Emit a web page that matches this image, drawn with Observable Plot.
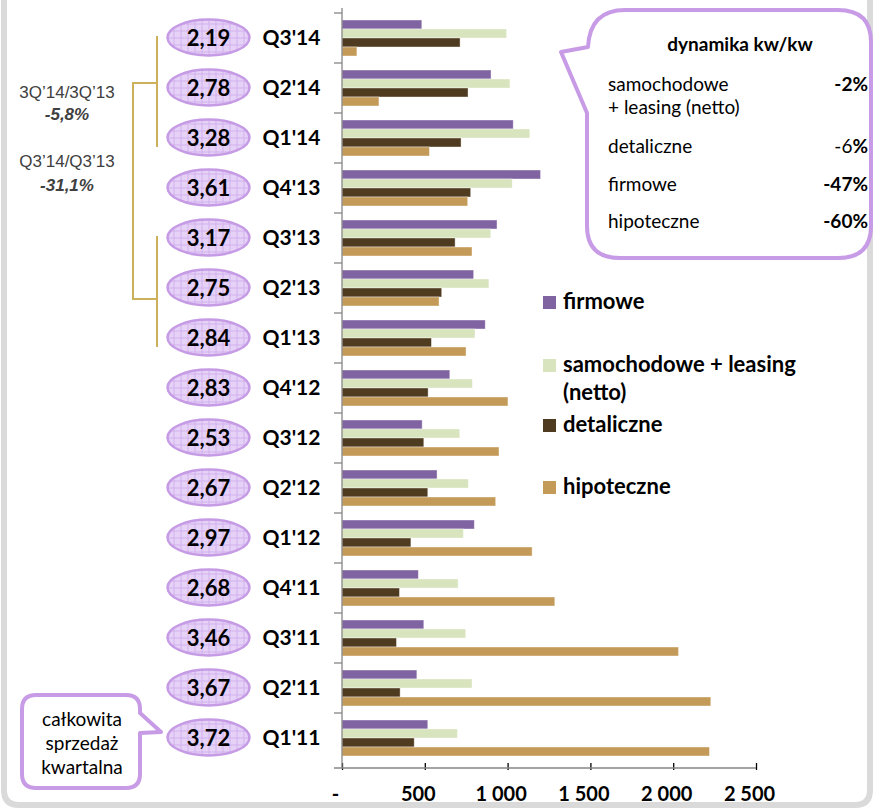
<!DOCTYPE html>
<html>
<head>
<meta charset="utf-8">
<script src="https://cdn.jsdelivr.net/npm/d3@7"></script>
<script src="https://cdn.jsdelivr.net/npm/@observablehq/plot@0.6"></script>
<style>
  html, body { margin: 0; padding: 0; background: #fff; }
  #chart { width: 874px; height: 808px; position: relative; overflow: hidden; }
  #chart svg { display: block; font-family: Lato, "Open Sans", sans-serif; }
</style>
</head>
<body>
<div id="chart"></div>
<script>
// ---- data ----
const quarters = ["Q3'14","Q2'14","Q1'14","Q4'13","Q3'13","Q2'13","Q1'13","Q4'12","Q3'12","Q2'12","Q1'12","Q4'11","Q3'11","Q2'11","Q1'11"];
const totals = ["2,19","2,78","3,28","3,61","3,17","2,75","2,84","2,83","2,53","2,67","2,97","2,68","3,46","3,67","3,72"];
const series = ["firmowe","samochodowe + leasing (netto)","detaliczne","hipoteczne"];
const firmowe     = [482, 900, 1034, 1199, 936, 795, 865, 651, 484, 574, 799, 461, 494, 452, 518];
const samochodowe = [994, 1014, 1134, 1028, 898, 887, 803, 787, 711, 763, 733, 701, 747, 785, 697];
const detaliczne  = [713, 761, 719, 777, 683, 602, 540, 520, 494, 518, 416, 347, 329, 351, 436];
const hipoteczne  = [90, 223, 528, 759, 785, 586, 749, 1002, 948, 928, 1148, 1285, 2032, 2227, 2219];
const colors = ["#8064a2", "#d7e4bd", "#4f3b1f", "#c49a58"];
const xTicks = [0, 500, 1000, 1500, 2000, 2500];
const legendLabels = [["firmowe"], ["samochodowe + leasing", "(netto)"], ["detaliczne"], ["hipoteczne"]];
const dynLabels = [["samochodowe", "+ leasing (netto)"], ["detaliczne"], ["firmowe"], ["hipoteczne"]];
const dynValues = ["-2", "-6", "-47", "-60"];
const yoyLabels = ["3Q\u201914/3Q\u201913", "-5,8%", "Q3\u201914/Q3\u201913", "-31,1%"];
const calloutLines = ["całkowita", "sprzedaż", "kwartalna"];

// ---- build tables ----
const seriesValues = [firmowe, samochodowe, detaliczne, hipoteczne];
const data = quarters.flatMap((q, i) => series.map((s, j) => ({quarter: q, series: s, value: seriesValues[j][i]})));
const totalsData = quarters.map((q, i) => ({quarter: q, total: totals[i]}));

const ellipse = {
  draw(ctx) {
    const a = 41, b = 18, kx = a * 0.5523, ky = b * 0.5523;
    ctx.moveTo(a, 0);
    ctx.bezierCurveTo(a, ky, kx, b, 0, b);
    ctx.bezierCurveTo(-kx, b, -a, ky, -a, 0);
    ctx.bezierCurveTo(-a, -ky, -kx, -b, 0, -b);
    ctx.bezierCurveTo(kx, -b, a, -ky, a, 0);
    ctx.closePath();
  }
};

const fmt = d => d === 0 ? "-" : d3.format(",")(d).replace(/,/g, " ");

const chart = Plot.plot({
  width: 874, height: 808,
  marginLeft: 342, marginRight: 118, marginTop: 8, marginBottom: 40,
  style: {fontFamily: "Lato, 'Open Sans', sans-serif", background: "transparent", overflow: "visible"},
  x: {domain: [0, 2500], ticks: xTicks, tickFormat: fmt, tickSize: 7, tickPadding: 16, label: null},
  y: {domain: series, axis: null, paddingInner: 0.05, paddingOuter: 0.8},
  fy: {domain: quarters, axis: null, padding: 0},
  color: {domain: series, range: colors},
  marks: [
    Plot.barX(data, {x: "value", y: "series", fy: "quarter", fill: "series", stroke: "#ffffff", strokeOpacity: 0.5, strokeWidth: 0.8}),
    Plot.dot(totalsData, {fy: "quarter", frameAnchor: "left", dx: -134, dy: -1, symbol: ellipse, fill: "url(#ovalgrid)", stroke: "#c69be5", strokeWidth: 2.5}),
    Plot.text(totalsData, {fy: "quarter", text: "total", frameAnchor: "left", dx: -134, dy: 0, textAnchor: "middle", fontWeight: "bold", fontSize: 22, fill: "#000"}),
    Plot.text(totalsData, {fy: "quarter", text: "quarter", frameAnchor: "left", dx: -80, textAnchor: "start", fontWeight: "bold", fontSize: 21, fill: "#000"})
  ]
});
document.getElementById("chart").appendChild(chart);

// ---- post-render decorations ----
const svg = d3.select(chart);
const defs = svg.insert("defs", ":first-child");
const pat = defs.append("pattern").attr("id", "ovalgrid").attr("patternUnits", "userSpaceOnUse")
  .attr("width", 7).attr("height", 7);
pat.append("rect").attr("width", 7).attr("height", 7).attr("fill", "#e6d2f6");
pat.append("path").attr("d", "M0,0.5H7M0.5,0V7").attr("stroke", "#d2b1ee").attr("stroke-width", 1);

// x tick styling
svg.selectAll("g").each(function() {
  const lab = this.getAttribute("aria-label") || "";
  if (lab === "x-axis tick") d3.select(this).attr("stroke", "#868686").attr("stroke-width", 1.3);
  if (lab === "x-axis tick label") {
    const tr = this.getAttribute("transform") || "";
    d3.select(this).attr("font-size", 20).attr("font-weight", "bold").attr("fill", "#000")
      .attr("transform", ("translate(-7,0) " + tr).trim());
  }
});

const xs = chart.scale("x");
const fys = chart.scale("fy");
const x0 = xs.apply(0), x1 = xs.apply(2500);
const fyTop = q => fys.apply(q);
const step = (fys.range[1] - fys.range[0]) / quarters.length;
const bw = fys.bandwidth ?? step;
const yTop = fys.range[0], yBot = fys.range[1];
const ax = svg.append("g").attr("stroke", "#868686").attr("stroke-width", 1.3).attr("fill", "none");
ax.append("line").attr("x1", x0).attr("x2", x0).attr("y1", yTop).attr("y2", yBot);
ax.append("line").attr("x1", x0 - 8).attr("x2", x1).attr("y1", yBot).attr("y2", yBot);
quarters.forEach(q => {
  const t = fyTop(q);
  ax.append("line").attr("x1", x0 - 8).attr("x2", x0).attr("y1", t).attr("y2", t);
});

// gold bracket
const cy = q => fyTop(q) + bw / 2;
const gold = "#cdb05a";
const br = svg.append("g").attr("stroke", gold).attr("stroke-width", 2).attr("fill", "none");
br.append("path").attr("d", `M157,${cy("Q3'14") - 2}V${cy("Q1'14") + 9}`);
br.append("path").attr("d", `M157,${cy("Q3'13") - 2}V${cy("Q1'13") + 9}`);
br.append("path").attr("d", `M157,${cy("Q2'14") - 5}H133V${cy("Q2'13") + 11}H157`);

// left yoy texts
const lt = svg.append("g").attr("font-family", "'Liberation Sans', Arial, sans-serif").attr("font-size", 17).attr("fill", "#404040").attr("text-anchor", "middle");
lt.append("text").attr("x", 67).attr("y", 98).text(yoyLabels[0]);
lt.append("text").attr("x", 67).attr("y", 120).attr("font-weight", "bold").attr("font-style", "italic").text(yoyLabels[1]);
lt.append("text").attr("x", 67).attr("y", 167).text(yoyLabels[2]);
lt.append("text").attr("x", 67).attr("y", 191).attr("font-weight", "bold").attr("font-style", "italic").text(yoyLabels[3]);

// legend
const lg = svg.append("g").attr("font-size", 22).attr("font-weight", "bold").attr("fill", "#000").attr("text-anchor", "start");
const legendY = [302, 365, 425, 487];
legendLabels.forEach((lines, i) => {
  lg.append("rect").attr("x", 543).attr("y", legendY[i] - 6).attr("width", 13).attr("height", 13).attr("fill", colors[i]);
  lines.forEach((ln, k) => {
    lg.append("text").attr("x", 563).attr("y", legendY[i] + 7 + k * 28).text(ln);
  });
});

// top-right callout
const purple = "#c89be6";
svg.append("path")
  .attr("d", "M587,113 L561,52 L588,47 Q590,10 625,10 L838,10 Q871,10 871,42 L871,226 Q871,258 838,258 L620,258 Q587,258 587,226 Z")
  .attr("fill", "#fff").attr("stroke", purple).attr("stroke-width", 4).attr("stroke-linejoin", "round");
const cg = svg.append("g").attr("font-size", 19).attr("fill", "#000").attr("text-anchor", "start");
cg.append("text").attr("x", 740).attr("y", 51).attr("text-anchor", "middle").attr("font-weight", "bold").text("dynamika kw/kw");
const dynY = [91, 153, 191, 228];
dynLabels.forEach((lines, i) => {
  lines.forEach((ln, k) => cg.append("text").attr("x", 608).attr("y", dynY[i] + k * 23).text(ln));
  const t = cg.append("text").attr("x", 868).attr("y", dynY[i]).attr("text-anchor", "end");
  t.append("tspan").attr("font-weight", i === 1 ? "normal" : "bold").text(dynValues[i]);
  t.append("tspan").attr("font-weight", "bold").text("%");
});

// bottom-left callout
svg.append("path")
  .attr("d", "M36,695 L126,695 Q140,695 140,709 L140,713 L161,732 L140,733 L140,774 Q140,788 126,788 L36,788 Q22,788 22,774 L22,709 Q22,695 36,695 Z")
  .attr("fill", "#fff").attr("stroke", purple).attr("stroke-width", 4).attr("stroke-linejoin", "round");
const bl = svg.append("g").attr("font-size", 19).attr("fill", "#000").attr("text-anchor", "middle");
calloutLines.forEach((ln, k) => bl.append("text").attr("x", 82).attr("y", 726 + k * 24).text(ln));

// outer frame
svg.insert("path", ":first-child")
  .attr("d", "M4,-20 L4,790 Q4,805 19,805 L855,805 Q870,805 870,790 L870,-20")
  .attr("fill", "none").attr("stroke", "#dadada").attr("stroke-width", 6);
</script>
</body>
</html>
